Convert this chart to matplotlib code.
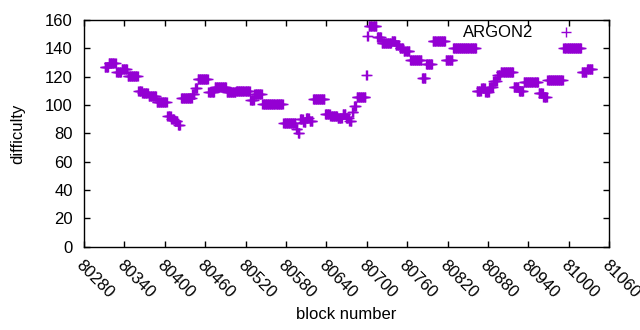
import matplotlib
matplotlib.use("Agg")
import matplotlib.pyplot as plt
import numpy as np

# Runs of consecutive blocks with the same difficulty (first block, last block, difficulty)
run_first = [80311, 80317, 80328, 80336, 80345, 80361, 80367, 80376, 80388, 80404,
             80410, 80415, 80420, 80424, 80441, 80445, 80449, 80465, 80474, 80492,
             80506, 80527, 80533, 80545, 80576, 80595, 80598, 80601, 80606, 80610,
             80615, 80620, 80638, 80646, 80657, 80664, 80669, 80674, 80678, 80681,
             80685, 80699, 80701, 80703, 80715, 80722, 80737, 80743, 80749, 80755,
             80764, 80782, 80788, 80798, 80817, 80828, 80863, 80870, 80876, 80882,
             80888, 80894, 80899, 80918, 80926, 80933, 80955, 80962, 80968, 80992,
             81019, 81027]
run_last = [80316, 80327, 80335, 80344, 80360, 80366, 80375, 80387, 80403, 80409,
            80414, 80419, 80423, 80440, 80444, 80448, 80464, 80473, 80491, 80505,
            80526, 80532, 80544, 80575, 80594, 80597, 80600, 80605, 80609, 80614,
            80619, 80637, 80645, 80656, 80663, 80668, 80673, 80677, 80680, 80684,
            80698, 80700, 80702, 80714, 80721, 80736, 80742, 80748, 80754, 80763,
            80781, 80787, 80797, 80816, 80827, 80862, 80869, 80875, 80881, 80887,
            80893, 80898, 80917, 80925, 80932, 80954, 80961, 80967, 80991, 81018,
            81026, 81035]
run_diff = [127, 129.5, 123.5, 125.5, 120.5, 110, 108.5, 106.5, 102, 92,
            90, 88.5, 86, 105, 108, 112, 118.5, 109.5, 113, 109,
            110, 103.5, 107.5, 100.5, 87, 83, 80, 90, 88, 91,
            89, 104, 94, 92.5, 91, 93.5, 91, 88.5, 95, 99,
            105.5, 121.5, 149, 155.5, 148, 144, 145.5, 142.5, 140.5, 138,
            132, 119, 129, 145, 132, 140, 110, 112, 109, 113,
            117, 121, 123.5, 113, 110, 116.5, 108.5, 106, 118, 140,
            123.5, 125.5]

blocks = np.concatenate([np.arange(a, b + 1) for a, b in zip(run_first, run_last)])
difficulty = np.concatenate([np.full(b - a + 1, d) for a, b, d in zip(run_first, run_last, run_diff)])

plt.rcParams["font.family"] = ["Liberation Sans", "DejaVu Sans"]
plt.rcParams["font.size"] = 12

fig = plt.figure(figsize=(6.4, 3.3), dpi=100)
ax = fig.add_axes([0.131, 0.253, 0.821, 0.686])

ax.plot(blocks, difficulty, linestyle="none", marker="+", markersize=7,
        markeredgewidth=1, color="#9400d3", label="ARGON2")

ax.set_xlim(80280, 81060)
ax.set_ylim(0, 160)
ax.set_xticks(np.arange(80280, 81061, 60))
ax.set_yticks(np.arange(0, 161, 20))
ax.tick_params(direction="in", top=True, right=True, length=4, width=1, colors="black")
ax.tick_params(axis="x", pad=8)
ax.tick_params(axis="y", pad=8)
for lbl in ax.get_xticklabels():
    lbl.set_rotation(-45)
    lbl.set_ha("left")
    lbl.set_va("top")
    lbl.set_rotation_mode("anchor")
for s in ax.spines.values():
    s.set_linewidth(1)

ax.set_xlabel("block number", labelpad=4)
ax.set_ylabel("difficulty", labelpad=14)

ax.legend(loc="upper right", bbox_to_anchor=(0.965, 0.977), markerfirst=False,
          frameon=False, borderpad=0, borderaxespad=0, handlelength=3.0,
          handletextpad=0.45)

fig.savefig("out.png", dpi=100)
